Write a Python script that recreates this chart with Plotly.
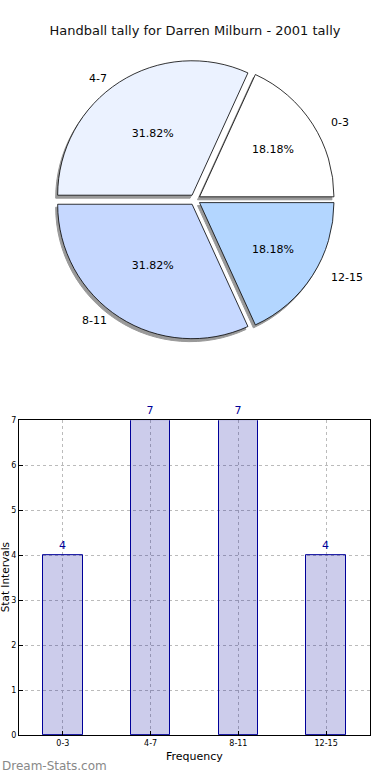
import math
import plotly.graph_objects as go

title = "Handball tally for Darren Milburn - 2001 tally"
categories = ["0-3", "4-7", "8-11", "12-15"]
counts = [4, 7, 7, 4]
pie_colors = ["#FFFFFF", "#EBF2FF", "#C6D8FF", "#B3D6FF"]
y_ticks = [0, 1, 2, 3, 4, 5, 6, 7]

W, H = 390, 780
FONT = "DejaVu Sans"

# pie geometry (pixels)
cx, cy = 195, 198
r = 136
pull = 0.04
half = r * (1 + pull)
total = sum(counts)
rot = 90 - counts[0] / total * 360

fig = go.Figure()

# shadow pie
sdx, sdy = -2, 3
fig.add_trace(go.Pie(
    labels=categories, values=counts, sort=False, direction="counterclockwise",
    rotation=rot, pull=[pull] * 4,
    marker=dict(colors=["#999999"] * 4, line=dict(color="#999999", width=1)),
    textinfo="none", hoverinfo="skip", showlegend=False,
    domain=dict(x=[(cx + sdx - half) / W, (cx + sdx + half) / W],
                y=[1 - (cy + sdy + half) / H, 1 - (cy + sdy - half) / H]),
))
fig.add_trace(go.Pie(
    labels=categories, values=counts, sort=False, direction="counterclockwise",
    rotation=rot, pull=[pull] * 4,
    marker=dict(colors=pie_colors, line=dict(color="#000000", width=0.8)),
    texttemplate="%{percent:.2%}", textposition="inside",
    insidetextorientation="horizontal",
    textfont=dict(family=FONT, size=11, color="#000000"),
    showlegend=False,
    domain=dict(x=[(cx - half) / W, (cx + half) / W],
                y=[1 - (cy + half) / H, 1 - (cy - half) / H]),
))

# outer labels computed from slice angles
start = 0.0
rx, ry = 145, 132
annotations = []
for lab, v in zip(categories, counts):
    ang = start + v / total * 360 / 2
    start += v / total * 360
    t = math.radians(ang)
    px = cx + 1.1 * rx * math.cos(t)
    py = cy - 1.1 * ry * math.sin(t)
    annotations.append(dict(
        x=px / W, y=1 - py / H, xref="paper", yref="paper", text=lab,
        showarrow=False, xanchor="left" if math.cos(t) > 0 else "right",
        yanchor="middle", font=dict(family=FONT, size=11, color="#000000")))

# bar chart
fig.add_trace(go.Bar(
    x=categories, y=counts, width=0.45,
    marker=dict(color="rgba(0,0,153,0.2)", line=dict(color="#000099", width=1)),
    text=[str(c) for c in counts], textposition="outside", cliponaxis=False,
    textfont=dict(family=FONT, size=11, color="#000099"),
    showlegend=False, xaxis="x", yaxis="y",
))

annotations.append(dict(x=5 / W, y=1 - 580 / H, xref="paper", yref="paper",
                        text="Stat Intervals", textangle=-90, showarrow=False,
                        xanchor="center", yanchor="middle",
                        font=dict(family=FONT, size=10.5, color="#000000")))
annotations.append(dict(x=194 / W, y=1 - 761 / H, xref="paper", yref="paper",
                        text="Frequency", showarrow=False,
                        xanchor="center", yanchor="middle",
                        font=dict(family=FONT, size=11, color="#000000")))
annotations.append(dict(x=0, y=1 - 771 / H, xref="paper", yref="paper",
                        text="Dream-Stats.com", showarrow=False,
                        xanchor="left", yanchor="middle",
                        font=dict(family=FONT, size=12, color="#888888")))

fig.update_layout(
    width=W, height=H, margin=dict(l=0, r=0, t=0, b=0),
    paper_bgcolor="white", plot_bgcolor="white",
    title=dict(text=title, x=0.5, xanchor="center", y=1 - 30 / H, yanchor="middle",
               font=dict(family=FONT, size=13, color="#111111")),
    xaxis=dict(domain=[19 / W, 370 / W], range=[-0.5, 3.5], type="category",
               showline=True, mirror=True, linecolor="#000000", linewidth=1,
               showgrid=True, gridcolor="#BBBBBB", griddash="dot", gridwidth=1,
               ticks="inside", ticklen=4, tickcolor="#000000",
               tickfont=dict(family=FONT, size=8, color="#000000"), zeroline=False),
    yaxis=dict(domain=[1 - 740 / H, 1 - 421 / H], range=[0, 7],
               tickvals=y_ticks, showline=True, mirror=True, linecolor="#000000",
               linewidth=1, showgrid=True, gridcolor="#BBBBBB", griddash="dot",
               gridwidth=1, ticks="inside", ticklen=4, tickcolor="#000000",
               tickfont=dict(family=FONT, size=8, color="#000000"), zeroline=False),
    annotations=annotations,
    bargap=0,
)

fig.write_html("out.html", config={"displayModeBar": False},
               post_script="document.body.style.margin='0';document.documentElement.style.overflow='hidden';")
